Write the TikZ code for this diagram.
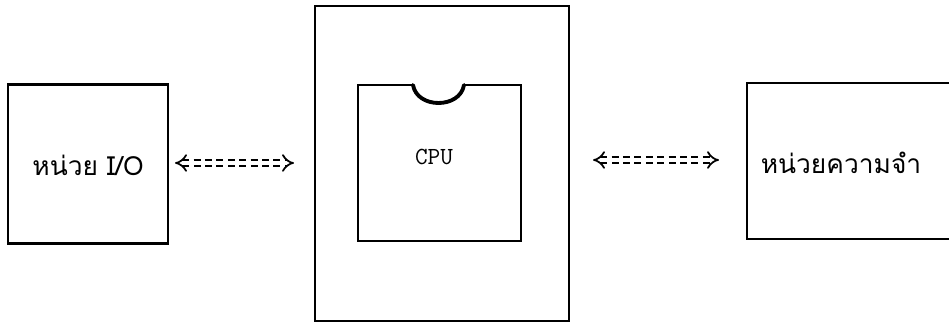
\documentclass[tikz,border=0pt]{standalone}
\usepackage{fontspec}
\newfontfamily\thaifont[Script=Thai]{Loma}
\usetikzlibrary{arrows.meta}

\begin{document}
\begin{tikzpicture}[x=0.02cm, y=-0.02cm,
    unitbox/.style={draw, line width=1.2pt, inner sep=0pt},
    busline/.style={double, double distance=2.4pt, dashed, dash pattern=on 4pt off 2.5pt,
        line width=1pt, {Implies[scale=1.3]}-{Implies[scale=1.3]}},
    lbl/.style={font=\thaifont\fontsize{15}{17}\selectfont}]
    \path[use as bounding box, clip] (0,0) rectangle (949,323);

    % the three boxes
    \node[unitbox, minimum width=160*0.02cm, minimum height=159*0.02cm] (io) at (88,164) {};
    \node[unitbox, minimum width=254*0.02cm, minimum height=315*0.02cm] (board) at (442,163.5) {};
    \node[unitbox, minimum width=230*0.02cm, minimum height=156*0.02cm] (mem) at (862,161) {};

    % cpu chip with its notch
    \coordinate (nw) at (358,85);
    \coordinate (se) at (521,241);
    \draw[line width=1.2pt] (413,85) -- (nw) |- (se) |- (464,85);
    \draw[line width=2.2pt, line cap=round] (413,85) .. controls (417,109) and (460,109) .. (464,85);

    % texts
    \node[lbl] (iotext) at (88,165) {หน่วย I/O};
    \node[font=\ttfamily\fontsize{14}{16}\selectfont] (cpu) at (434,157) {CPU};
    \node[lbl] (memtext) at (841,163) {หน่วยความจำ};

    % buses
    \draw[busline, shorten <=6*0.02cm, shorten >=20*0.02cm] (io.east |- 0,163) -- (board.west |- 0,163);
    \draw[busline, shorten <=23*0.02cm, shorten >=27*0.02cm] (board.east |- 0,160) -- (mem.west |- 0,160);
\end{tikzpicture}
\end{document}
